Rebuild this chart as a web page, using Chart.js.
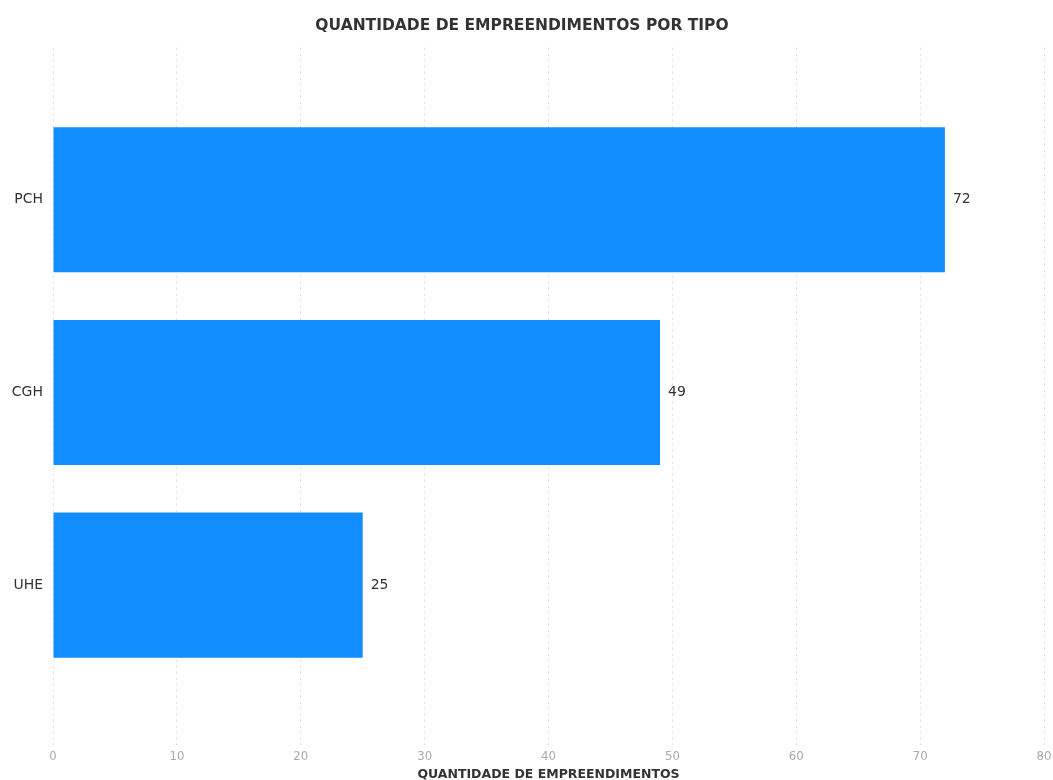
<!DOCTYPE html>
<html>
<head>
<meta charset="utf-8">
<script src="https://cdn.jsdelivr.net/npm/chart.js@4/dist/chart.umd.min.js"></script>
<style>
  html, body { margin: 0; padding: 0; background: #fff; }
  #wrap { width: 1053px; height: 780px; }
</style>
</head>
<body>
<div id="wrap"><canvas id="chart"></canvas></div>
<script>
const categories = ["PCH", "CGH", "UHE"];
const quantidades = [72, 49, 25];
const xTicks = [0, 10, 20, 30, 40, 50, 60, 70, 80];

const FONT = "'DejaVu Sans', sans-serif";
const FONT_NARROW = "'Liberation Sans Narrow', 'DejaVu Sans Condensed', sans-serif";

// rótulos de valor à direita de cada barra
const valueLabels = {
  id: "valueLabels",
  afterDatasetsDraw(chart) {
    const ctx = chart.ctx;
    const meta = chart.getDatasetMeta(0);
    ctx.save();
    ctx.font = "14px " + FONT;
    ctx.fillStyle = "#333";
    ctx.textAlign = "left";
    ctx.textBaseline = "middle";
    meta.data.forEach((bar, i) => {
      ctx.fillText(quantidades[i], bar.x + 8, bar.y);
    });
    ctx.restore();
  }
};

new Chart(document.getElementById("chart"), {
  type: "bar",
  data: {
    datasets: [{
      data: quantidades.map((v, i) => ({ x: v, y: i })),
      backgroundColor: "#118DFF",
      barPercentage: 0.753,
      categoryPercentage: 1
    }]
  },
  plugins: [valueLabels],
  options: {
    indexAxis: "y",
    responsive: true,
    maintainAspectRatio: false,
    animation: false,
    layout: { padding: { top: 17, right: 9, bottom: 0, left: 0 } },
    plugins: {
      legend: { display: false },
      tooltip: { enabled: false },
      title: {
        display: true,
        text: "QUANTIDADE DE EMPREENDIMENTOS POR TIPO",
        color: "#333",
        font: { family: FONT, size: 15.5, weight: "bold" },
        padding: { top: 0, bottom: 12 }
      }
    },
    scales: {
      x: {
        type: "linear",
        min: 0,
        max: 80,
        afterBuildTicks: s => { s.ticks = xTicks.map(v => ({ value: v })); },
        afterFit: s => { s.height = 35; s.paddingRight = 0; },
        grid: { color: "#dcdcdc", lineWidth: 1, drawTicks: false },
        border: { display: false, dash: [2, 4] },
        ticks: { color: "#aaa", font: { family: FONT_NARROW, size: 13 }, padding: 4 },
        title: {
          display: true,
          text: "QUANTIDADE DE EMPREENDIMENTOS",
          color: "#333",
          font: { family: FONT, size: 12.5, weight: "bold" },
          padding: { top: 0, bottom: -2 }
        }
      },
      y: {
        type: "linear",
        reverse: true,
        offset: false,
        min: -0.79,
        max: 2.83,
        afterBuildTicks: s => { s.ticks = categories.map((c, i) => ({ value: i })); },
        afterFit: s => { s.width = 53; },
        grid: { display: false, drawTicks: false },
        border: { display: false },
        ticks: {
          color: "#333",
          font: { family: FONT, size: 14 },
          padding: 10,
          callback: v => categories[v]
        }
      }
    }
  }
});
</script>
</body>
</html>
